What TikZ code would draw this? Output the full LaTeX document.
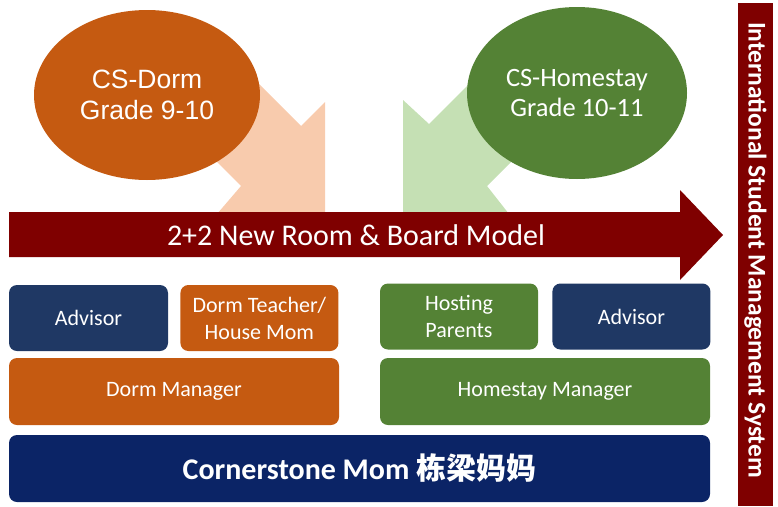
\documentclass[tikz,border=0pt]{standalone}
\usepackage{fontspec}
\setmainfont{Carlito}
\newfontfamily\arialfont{Liberation Sans}
\newfontfamily\cjk{Noto Sans CJK SC}
\usetikzlibrary{positioning, shapes.geometric}

\definecolor{dormorange}{HTML}{C55A11}
\definecolor{dormlight}{HTML}{F8CBAD}
\definecolor{homegreen}{HTML}{548235}
\definecolor{homelight}{HTML}{C5E0B4}
\definecolor{advnavy}{HTML}{1F3864}
\definecolor{momnavy}{HTML}{0B2466}
\definecolor{barred}{HTML}{7F0000}

\begin{document}
\begin{tikzpicture}[x=1pt, y=-1pt,
        blob/.style = {ellipse, inner sep=0pt, text=white, align=center},
        tile/.style = {rounded corners=8pt, inner sep=0pt, text=white, align=center,
                       font=\fontsize{22}{27}\selectfont}%
    ]
        \useasboundingbox (0,0) rectangle (778,506);

        % arrows into the model bar
        \fill[dormlight] (210,35) -- (301,126) -- (325,102) -- (325,214) -- (217,214) -- (241,186) -- (150,95) -- cycle;
        \fill[homelight] (518,35) -- (429,124) -- (403,100) -- (403,214) -- (509,214) -- (487,186) -- (578,95) -- cycle;

        \node[blob, fill=dormorange, minimum width=226pt, minimum height=170pt,
              font=\arialfont\fontsize{26.5}{31}\selectfont] (dorm) at (147,95) {CS-Dorm\\Grade 9-10};
        \node[blob, fill=homegreen, minimum width=220pt, minimum height=172pt,
              font=\fontsize{26.5}{30}\selectfont] (homestay) at (577,93) {CS-Homestay\\Grade 10-11};

        % the model bar
        \fill[barred] (9,212) -- (680,212) -- (680,190) -- (723,235) -- (680,280) -- (680,257) -- (9,257) -- cycle;
        \node[text=white, font=\fontsize{30}{33}\selectfont] (model) at (356,235) {2+2 New Room \& Board Model};

        % side bar
        \fill[barred] (738,3) rectangle (773,506);
        \node[rotate=-90, text=white, font=\bfseries\fontsize{25.5}{28}\selectfont] (system) at (755.5,250)
            {International Student Management System};

        % staff tiles
        \node[tile, fill=advnavy, minimum width=159pt, minimum height=66pt] (advisorL) at (88.5,318) {Advisor};
        \node[tile, fill=dormorange, minimum width=158pt, minimum height=66pt, right=12pt of advisorL] (teacher) {Dorm Teacher/\\House Mom};
        \node[tile, fill=homegreen, minimum width=158pt, minimum height=66pt] (hosting) at (459,316.5) {Hosting\\Parents};
        \node[tile, fill=advnavy, minimum width=158pt, minimum height=66pt, right=14pt of hosting] (advisorR) {Advisor};

        \node[tile, fill=dormorange, minimum width=330pt, minimum height=67pt] (dormmgr) at (174,391.5) {Dorm Manager};
        \node[tile, fill=homegreen, minimum width=330pt, minimum height=67pt] (homemgr) at (545,391.5) {Homestay Manager};

        \node[tile, fill=momnavy, minimum width=701pt, minimum height=67pt,
              font=\bfseries\fontsize{30}{33}\selectfont] (mom) at (359.5,468.5) {Cornerstone Mom {\cjk 栋梁妈妈}};
    \end{tikzpicture}
\end{document}
